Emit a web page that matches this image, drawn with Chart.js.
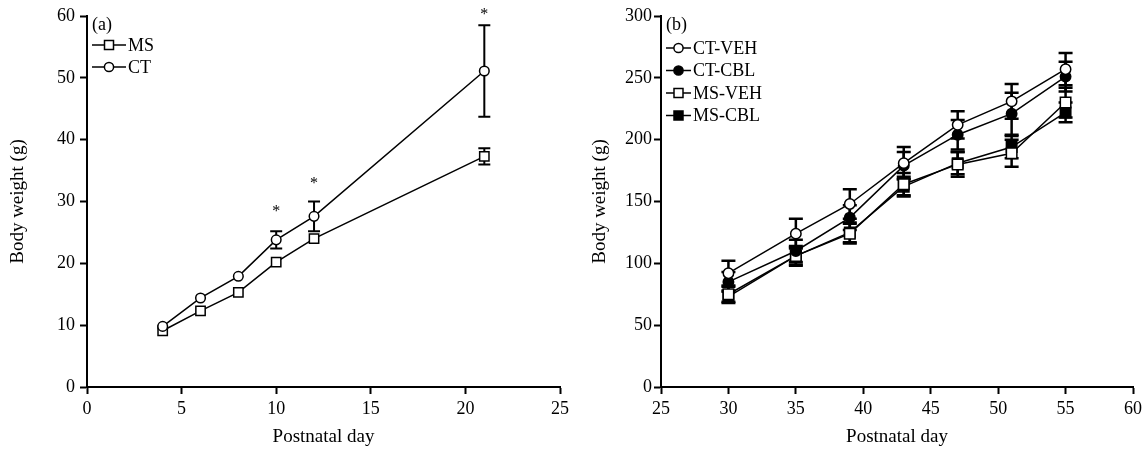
<!DOCTYPE html>
<html>
<head>
<meta charset="utf-8">
<script src="https://cdn.jsdelivr.net/npm/chart.js@4/dist/chart.umd.min.js"></script>
<style>
  body { margin: 0; background: #fff; }
  #wrap { width: 1146px; height: 449px; display: flex; }
  .panel { width: 573px; height: 449px; position: relative; }
</style>
</head>
<body>
<div id="wrap">
  <div class="panel"><canvas id="chartA"></canvas></div>
  <div class="panel"><canvas id="chartB"></canvas></div>
</div>
<script>
// panel (a)
const daysA = [4, 6, 8, 10, 12, 21];
const msA = [9.1, 12.3, 15.3, 20.2, 24.0, 37.3];
const msErrA = [0.3, 0.3, 0.3, 0.4, 0.4, 1.3];
const ctA = [9.8, 14.4, 17.9, 23.8, 27.6, 51.1];
const ctErrA = [0.3, 0.3, 0.4, 1.4, 2.4, 7.4];
const starDaysA = [10, 12, 21];
const starValuesA = [28.8, 33.4, 60.6];

// panel (b)
const daysB = [30, 35, 39, 43, 47, 51, 55];
const ctVeh = [92, 124, 148, 181, 212, 231, 257];
const ctVehErr = [10, 12, 12, 13, 11, 14, 13];
const ctCbl = [85, 110, 137, 179, 204, 221, 251];
const ctCblErr = [8, 9, 10, 11, 12, 17, 12];
const msVeh = [75, 106, 124, 164, 180, 189, 230];
const msVehErr = [6, 8, 8, 9, 10, 11, 12];
const msCbl = [73, 106, 125, 162, 181, 194, 222];
const msCblErr = [5, 7, 8, 8, 9, 9, 8];

const FONT = "'Liberation Serif', 'Times New Roman', serif";
Chart.defaults.font.family = FONT;
Chart.defaults.font.size = 18;
Chart.defaults.color = '#000';

function pts(xs, ys) {
  return xs.map((x, i) => ({ x: x, y: ys[i] }));
}

function series(label, xs, ys, errs, style, filled, big) {
  return {
    label: label,
    data: pts(xs, ys),
    errors: errs,
    borderColor: '#000',
    borderWidth: 1.5,
    pointStyle: style,
    pointRadius: style === 'rect' ? (big ? 7.4 : 6.6) : (big ? 5.2 : 4.8),
    pointBorderWidth: 1.5,
    pointBorderColor: '#000',
    pointBackgroundColor: filled ? '#000' : '#fff',
    pointHoverRadius: 0,
    tension: 0
  };
}

function marker(ctx, style, filled, x, y) {
  ctx.save();
  ctx.lineWidth = 1.5;
  ctx.strokeStyle = '#000';
  ctx.fillStyle = filled ? '#000' : '#fff';
  ctx.beginPath();
  if (style === 'rect') {
    ctx.rect(x - 4.5, y - 4.5, 9, 9);
  } else {
    ctx.arc(x, y, 4.6, 0, Math.PI * 2);
  }
  ctx.fill();
  ctx.stroke();
  ctx.restore();
}

// error bars hidden behind the marker are not drawn (as in the original figure)
const errorBars = {
  id: 'errorBars',
  beforeDatasetsDraw(chart, args, opts) {
    const ctx = chart.ctx;
    const ys = chart.scales.y;
    const cap = opts.cap || 6;
    ctx.save();
    ctx.strokeStyle = '#000';
    ctx.lineWidth = opts.width || 2;
    chart.data.datasets.forEach((ds, i) => {
      const meta = chart.getDatasetMeta(i);
      meta.data.forEach((p, j) => {
        const v = ds.data[j].y, e = ds.errors[j];
        const top = ys.getPixelForValue(v + e);
        const bot = ys.getPixelForValue(v - e);
        if ((bot - top) / 2 < 5) return;
        ctx.beginPath();
        ctx.moveTo(p.x, top); ctx.lineTo(p.x, bot);
        ctx.moveTo(p.x - cap, top); ctx.lineTo(p.x + cap, top);
        ctx.moveTo(p.x - cap, bot); ctx.lineTo(p.x + cap, bot);
        ctx.stroke();
      });
    });
    ctx.restore();
  }
};

const legendBox = {
  id: 'legendBox',
  afterDraw(chart, args, opts) {
    const ctx = chart.ctx;
    const a = chart.chartArea;
    ctx.save();
    ctx.fillStyle = '#000';
    ctx.font = '18px ' + FONT;
    ctx.textBaseline = 'middle';
    ctx.fillText(opts.panel, a.left + 5, a.top + 9);
    opts.items.forEach((it, k) => {
      const y = a.top + opts.first + k * opts.step;
      const x0 = a.left + 5, x1 = x0 + opts.len;
      ctx.strokeStyle = '#000';
      ctx.lineWidth = 1.5;
      ctx.beginPath(); ctx.moveTo(x0, y); ctx.lineTo(x1, y); ctx.stroke();
      marker(ctx, it.style, it.filled, (x0 + x1) / 2, y);
      ctx.fillStyle = '#000';
      ctx.fillText(it.label, x1 + 2, y + 1);
    });
    if (opts.stars) {
      ctx.textAlign = 'center';
      ctx.font = '16px ' + FONT;
      opts.stars.days.forEach((d, k) => {
        ctx.fillText('*', chart.scales.x.getPixelForValue(d),
          chart.scales.y.getPixelForValue(opts.stars.values[k]) + 3);
      });
    }
    ctx.restore();
  }
};

function axis(min, max, step, title, isY, width, titlePad, tickPad) {
  return {
    type: 'linear',
    min: min, max: max,
    ticks: { stepSize: step, padding: tickPad, color: '#000', font: { size: 18 } },
    grid: { drawOnChartArea: false, tickLength: 7, tickWidth: 2, tickColor: '#000' },
    border: { color: '#000', width: 2 },
    title: { display: true, text: title, color: '#000', padding: titlePad, font: { size: 19 } },
    afterFit(scale) {
      if (isY) scale.width = width; else scale.height = width;
    }
  };
}

function makeChart(id, datasets, xAx, yAx, legendOpts, barOpts, right) {
  return new Chart(document.getElementById(id), {
    type: 'line',
    data: { datasets: datasets },
    options: {
      responsive: true,
      maintainAspectRatio: false,
      animation: false,
      events: [],
      layout: { padding: { top: 16, right: right, left: 0, bottom: 0 } },
      scales: { x: xAx, y: yAx },
      plugins: {
        legend: { display: false },
        tooltip: { enabled: false },
        legendBox: legendOpts,
        errorBars: barOpts
      }
    },
    plugins: [errorBars, legendBox]
  });
}

makeChart('chartA',
  [
    series('CT', daysA, ctA, ctErrA, 'circle', false, false),
    series('MS', daysA, msA, msErrA, 'rect', false, false)
  ],
  axis(0, 25, 5, 'Postnatal day', false, 62, { top: 4, bottom: 1 }, 4),
  axis(0, 60, 10, 'Body weight (g)', true, 87, { top: 7, bottom: 0 }, 5),
  {
    panel: '(a)', first: 29, step: 22, len: 34,
    items: [
      { label: 'MS', style: 'rect', filled: false },
      { label: 'CT', style: 'circle', filled: false }
    ],
    stars: { days: starDaysA, values: starValuesA }
  },
  { cap: 6, width: 2 },
  12
);

makeChart('chartB',
  [
    series('CT-VEH', daysB, ctVeh, ctVehErr, 'circle', false, true),
    series('CT-CBL', daysB, ctCbl, ctCblErr, 'circle', true, true),
    series('MS-VEH', daysB, msVeh, msVehErr, 'rect', false, true),
    series('MS-CBL', daysB, msCbl, msCblErr, 'rect', true, true)
  ],
  axis(25, 60, 5, 'Postnatal day', false, 62, { top: 4, bottom: 1 }, 4),
  axis(0, 300, 50, 'Body weight (g)', true, 88, { top: 16, bottom: 0 }, 2),
  {
    panel: '(b)', first: 32, step: 22.5, len: 25,
    items: [
      { label: 'CT-VEH', style: 'circle', filled: false },
      { label: 'CT-CBL', style: 'circle', filled: true },
      { label: 'MS-VEH', style: 'rect', filled: false },
      { label: 'MS-CBL', style: 'rect', filled: true }
    ]
  },
  { cap: 7, width: 2.5 },
  11
);
</script>
</body>
</html>
